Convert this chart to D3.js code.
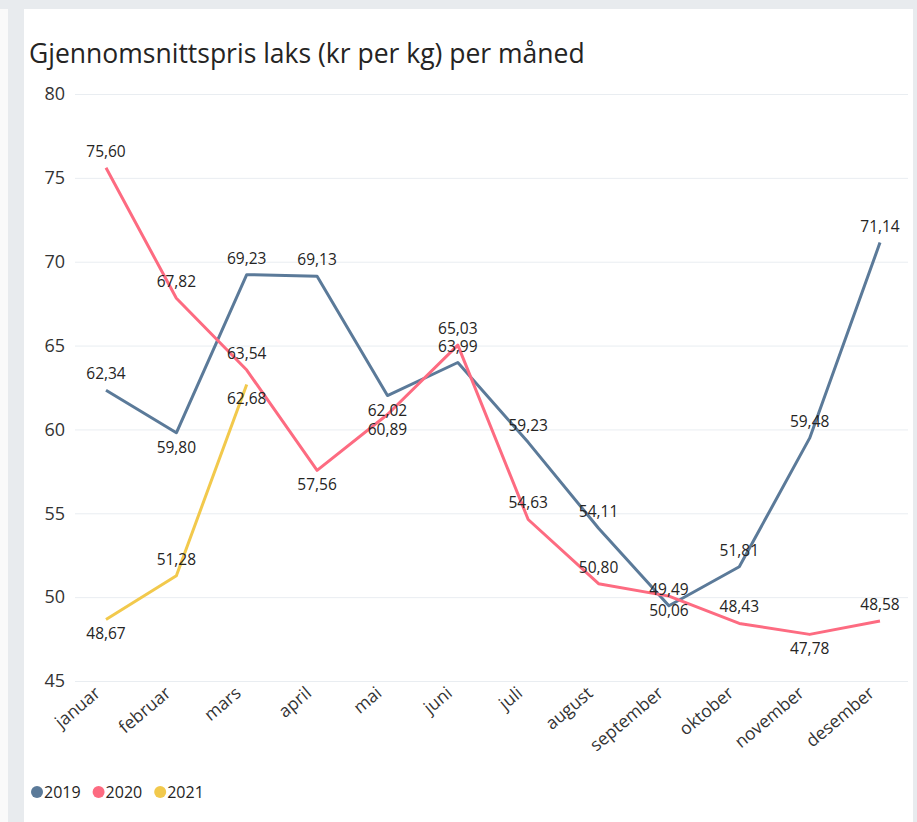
<!DOCTYPE html>
<html>
<head>
<meta charset="utf-8">
<script src="https://cdn.jsdelivr.net/npm/d3@7"></script>
<style>
  html, body { margin: 0; padding: 0; background: #fafafa; }
  svg { display: block; font-family: "Open Sans", "Noto Sans", sans-serif; }
</style>
</head>
<body>
<div id="chart"></div>
<script>
const months = ["januar", "februar", "mars", "april", "mai", "juni", "juli", "august", "september", "oktober", "november", "desember"];
const years = ["2019", "2020", "2021"];
const values2019 = [62.34, 59.80, 69.23, 69.13, 62.02, 63.99, 59.23, 54.11, 49.49, 51.81, 59.48, 71.14];
const values2020 = [75.60, 67.82, 63.54, 57.56, 60.89, 65.03, 54.63, 50.80, 50.06, 48.43, 47.78, 48.58];
const values2021 = [48.67, 51.28, 62.68];
const yTicks = [45, 50, 55, 60, 65, 70, 75, 80];

// label side per point: 1 = above, -1 = below
const side2019 = [1, -1, 1, 1, -1, 1, 1, 1, 1, 1, 1, 1];
const side2020 = [1, 1, 1, -1, -1, 1, 1, 1, -1, 1, -1, 1];
const side2021 = [-1, 1, -1];

const colors = { "2019": "#5b7a99", "2020": "#fd6b81", "2021": "#f2c94c" };

const series = [
  { year: "2019", values: values2019, side: side2019 },
  { year: "2020", values: values2020, side: side2020 },
  { year: "2021", values: values2021, side: side2021 }
];

const width = 917, height = 822;

const svg = d3.select("#chart").append("svg")
  .attr("width", width)
  .attr("height", height);

// page frame
svg.append("rect").attr("x", 0).attr("y", 0).attr("width", width).attr("height", 9).attr("fill", "#e8ebee");
svg.append("rect").attr("x", 8).attr("y", 0).attr("width", 16).attr("height", height).attr("fill", "#e8ebee");
svg.append("rect").attr("x", 913).attr("y", 0).attr("width", 4).attr("height", height).attr("fill", "#e8ebee");
svg.append("rect").attr("x", 24).attr("y", 9).attr("width", 889).attr("height", height - 9).attr("fill", "#fff");

// title, fitted to the reference width
const title = svg.append("text")
  .attr("x", 29)
  .attr("y", 63)
  .attr("fill", "#252423")
  .style("font-size", "24px")
  .text("Gjennomsnittspris laks (kr per kg) per måned");
const tw = title.node().getComputedTextLength();
title.style("font-size", (24 * 556 / tw).toFixed(2) + "px");

const x = d3.scalePoint().domain(months).range([106, 880]);
const y = d3.scaleLinear().domain([45, 80]).range([681, 94]);

// gridlines + y labels
const yAxis = svg.append("g")
  .attr("transform", "translate(75,0)")
  .call(d3.axisLeft(y).tickValues(yTicks).tickSize(-833).tickPadding(10).tickFormat(d3.format("d")));
yAxis.select(".domain").remove();
yAxis.selectAll(".tick line").attr("stroke", "#e9edf1").attr("stroke-width", 1);
yAxis.selectAll(".tick text")
  .attr("fill", "#333")
  .style("font-size", "18px")
  .style("font-family", "'Open Sans', sans-serif");

// x labels
const xAxis = svg.append("g")
  .attr("transform", "translate(0,681)")
  .call(d3.axisBottom(x).tickSize(0).tickPadding(0));
xAxis.select(".domain").remove();
xAxis.selectAll(".tick text")
  .attr("fill", "#333")
  .style("font-size", "17.5px")
  .style("font-family", "'Open Sans', sans-serif")
  .attr("text-anchor", "end")
  .attr("dy", null)
  .attr("y", 0)
  .attr("transform", "translate(-5,14) rotate(-40)");

const line = d3.line()
  .x((d, i) => x(months[i]))
  .y(d => y(d));

const fmt = v => d3.format(".2f")(v).replace(".", ",");

series.forEach(s => {
  svg.append("path")
    .datum(s.values)
    .attr("fill", "none")
    .attr("stroke", colors[s.year])
    .attr("stroke-width", 3)
    .attr("stroke-linejoin", "round")
    .attr("d", line);
});

series.forEach(s => {
  svg.append("g").selectAll("text")
    .data(s.values)
    .join("text")
    .attr("x", (d, i) => x(months[i]))
    .attr("y", (d, i) => y(d) + (s.side[i] > 0 ? -11 : 20))
    .attr("text-anchor", "middle")
    .attr("fill", "#252423")
    .style("font-size", "15.5px")
    .text(d => fmt(d));
});

// legend
const legend = svg.append("g").attr("transform", "translate(37,792)");
let lx = 0;
years.forEach(yr => {
  const g = legend.append("g").attr("transform", `translate(${lx},0)`);
  g.append("circle").attr("r", 6).attr("fill", colors[yr]);
  const t = g.append("text")
    .attr("x", 7)
    .attr("dy", "0.35em")
    .attr("fill", "#252423")
    .style("font-size", "16px")
    .text(yr);
  lx += 7 + t.node().getComputedTextLength() + 18;
});
</script>
</body>
</html>
